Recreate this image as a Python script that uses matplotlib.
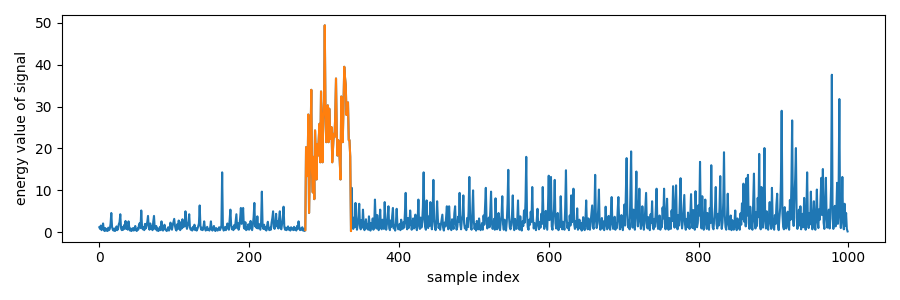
import numpy as np
import matplotlib
matplotlib.use("Agg")
import matplotlib.pyplot as plt

# energy before the event, samples 0..274
energy_before = [
    1.2, 0.8, 1.6, 0.5, 0.9, 2.1, 0.6, 0.3, 1.0, 0.4,
    0.7, 0.3, 1.1, 0.5, 0.8, 2.0, 4.6, 1.3, 0.6, 0.4,
    0.9, 0.3, 0.6, 1.4, 0.5, 0.8, 1.9, 2.4, 4.3, 1.0,
    0.5, 1.2, 0.6, 1.7, 0.9, 2.7, 0.8, 1.3, 0.6, 2.6,
    1.1, 0.4, 0.9, 0.3, 0.6, 1.0, 0.4, 0.8, 1.5, 0.5,
    0.3, 0.9, 0.6, 1.8, 2.2, 1.0, 5.2, 1.4, 0.7, 1.2,
    0.5, 2.0, 0.9, 1.6, 2.4, 3.9, 1.2, 0.6, 2.1, 0.8,
    1.4, 0.5, 2.5, 3.9, 1.0, 0.7, 1.5, 0.4, 0.9, 0.3,
    0.8, 1.3, 0.5, 2.6, 1.1, 0.4, 0.7, 1.8, 0.9, 0.5,
    0.3, 0.6, 1.2, 0.4, 0.9, 2.3, 1.1, 0.6, 1.7, 2.4,
    3.2, 1.5, 0.7, 0.4, 1.9, 0.8, 2.8, 1.0, 0.5, 2.4,
    0.9, 3.1, 1.2, 2.2, 1.4, 5.0, 2.0, 0.8, 1.6, 2.6,
    4.3, 1.1, 0.6, 0.9, 0.4, 1.3, 0.7, 1.8, 0.5, 1.0,
    0.4, 0.8, 1.4, 2.1, 6.4, 1.5, 0.6, 1.1, 0.5, 1.2,
    2.6, 0.9, 0.4, 0.7, 1.3, 0.5, 0.8, 0.4, 1.1, 2.6,
    0.7, 0.4, 0.9, 1.5, 0.5, 0.3, 1.0, 0.6, 0.4, 0.8,
    1.2, 0.5, 0.9, 1.6, 14.3, 1.1, 0.4, 0.7, 1.3, 0.5,
    0.9, 2.1, 1.4, 0.6, 3.0, 5.4, 1.8, 0.7, 1.2, 0.5,
    1.7, 0.9, 2.6, 4.3, 1.0, 2.2, 0.6, 1.4, 3.3, 5.8,
    2.0, 3.5, 5.8, 1.2, 0.8, 2.4, 0.5, 1.1, 0.7, 1.9,
    0.6, 1.3, 2.7, 1.0, 0.5, 1.8, 3.6, 7.0, 1.4, 2.2,
    1.0, 3.8, 0.9, 2.0, 1.3, 0.6, 2.4, 9.7, 1.5, 0.8,
    1.8, 0.7, 1.2, 0.4, 1.6, 2.5, 0.9, 0.5, 1.1, 0.6,
    2.3, 3.4, 5.0, 1.2, 0.8, 1.7, 4.4, 1.4, 2.6, 0.9,
    3.2, 5.0, 1.0, 0.7, 2.0, 3.6, 6.1, 1.3, 0.6, 1.1,
    0.5, 0.9, 1.4, 0.6, 1.0, 0.4, 1.2, 0.7, 0.9, 0.5,
    1.3, 0.6, 1.0, 0.4, 1.5, 0.8, 2.6, 1.1, 0.5, 0.9,
    0.6, 1.2, 0.4, 0.8, 0.3,
]

# detected event, samples 275..336 (drawn in orange)
event_start = 275
energy_event = [
    0.5, 20.3, 16.0, 13.4, 28.1, 4.6, 14.0, 22.0, 34.0, 14.2,
    9.5, 18.0, 7.9, 24.3, 19.0, 12.6, 21.0, 18.3, 22.5, 25.9,
    16.7, 33.6, 24.0, 16.7, 27.0, 31.2, 49.4, 28.0, 21.5, 26.0,
    30.3, 21.5, 29.5, 25.0, 22.3, 25.1, 16.7, 20.0, 23.5, 22.7,
    28.0, 36.7, 24.0, 18.3, 22.0, 20.7, 17.0, 12.6, 32.4, 26.0,
    21.5, 30.0, 39.5, 37.0, 35.2, 28.0, 30.5, 31.0, 22.0, 22.0,
    18.0, 0.3,
]

# energy after the event, samples 337..999
energy_after = [
    10.6, 2.1, 0.8,
    3.5, 1.2, 7.0, 2.4, 0.6, 1.8, 4.0, 6.8, 1.5, 0.7,
    2.9, 1.1, 5.4, 2.0, 0.5, 1.6, 3.1, 0.9, 1.9, 0.6,
    3.8, 1.3, 0.4, 2.2, 1.0, 3.3, 0.6, 1.7, 7.8, 2.5,
    0.9, 4.1, 1.4, 0.5, 2.6, 5.4, 1.2, 0.7, 3.0, 1.6,
    0.8, 7.2, 2.3, 0.6, 1.9, 3.7, 6.2, 1.0, 0.5, 2.8,
    1.3, 3.9, 5.8, 0.9, 1.6, 0.4, 2.5, 5.6, 1.8, 0.7,
    1.2, 2.0, 0.5, 3.0, 1.4, 0.8, 2.4, 1.1, 4.6, 9.4,
    2.2, 0.7, 3.4, 1.0, 1.9, 5.2, 2.6, 0.6, 1.5, 3.3,
    0.9, 1.7, 4.2, 1.2, 0.5, 2.9, 7.8, 1.6, 0.8, 3.5,
    1.1, 2.4, 6.0, 14.3, 3.0, 1.3, 0.6, 7.6, 2.1, 1.0,
    3.8, 1.5, 7.2, 2.6, 0.7, 4.4, 12.5, 3.1, 1.2, 0.5,
    2.7, 7.4, 3.2, 1.0, 2.0, 0.6, 1.8, 3.0, 4.2, 1.1,
    0.4, 2.3, 1.4, 3.6, 6.2, 1.5, 0.7, 6.2, 2.4, 1.0,
    0.5, 3.1, 1.6, 0.8, 4.5, 6.2, 2.0, 0.6, 1.3, 3.7,
    2.5, 9.4, 1.8, 0.7, 2.9, 4.1, 8.8, 2.2, 0.9, 1.4,
    0.5, 3.4, 1.2, 5.0, 13.2, 3.9, 1.1, 0.6, 4.8, 10.0,
    2.6, 0.8, 1.9, 0.4, 2.7, 1.3, 0.7, 3.3, 1.5, 0.5,
    1.0, 2.2, 0.6, 4.0, 1.8, 6.3, 10.6, 2.9, 0.9, 1.6,
    3.5, 1.2, 5.1, 9.7, 2.4, 0.8, 1.4, 3.2, 0.6, 8.1,
    2.0, 0.7, 1.5, 4.6, 1.1, 0.5, 2.8, 4.0, 8.6, 1.9,
    0.6, 3.0, 1.3, 0.4, 2.5, 6.8, 14.9, 3.6, 1.2, 0.7,
    2.1, 4.3, 8.8, 1.7, 0.5, 3.2, 1.4, 0.8, 2.9, 7.6,
    1.6, 0.6, 3.8, 1.0, 0.4, 2.6, 1.5, 5.2, 2.3, 7.4,
    18.0, 4.1, 1.2, 0.6, 3.0, 1.8, 4.9, 2.5, 10.8, 3.4,
    0.9, 2.2, 1.4, 0.5, 3.1, 5.6, 1.7, 0.7, 2.4, 1.1,
    4.4, 2.0, 10.8, 3.3, 0.8, 1.6, 5.1, 2.7, 0.6, 6.0,
    13.5, 2.9, 4.8, 13.2, 1.4, 0.6, 3.7, 5.5, 12.5, 2.2,
    0.9, 1.8, 4.6, 0.5, 2.3, 1.2, 8.6, 3.0, 0.7, 2.5,
    1.3, 0.6, 5.9, 14.8, 3.2, 1.0, 2.1, 0.5, 4.0, 1.6,
    8.8, 2.4, 3.5, 10.4, 1.9, 0.8, 2.7, 1.2, 5.7, 0.6,
    1.5, 3.0, 0.9, 2.2, 0.4, 1.7, 3.6, 1.1, 0.5, 2.8,
    7.6, 1.9, 0.7, 3.3, 1.4, 0.6, 2.5, 4.2, 6.4, 1.3,
    0.8, 4.7, 13.7, 3.1, 1.0, 2.4, 5.3, 10.2, 2.0, 0.6,
    1.6, 3.4, 0.9, 2.6, 0.5, 1.8, 6.1, 2.3, 0.7, 1.2,
    3.9, 1.4, 0.6, 4.5, 8.4, 2.0, 0.8, 1.5, 3.7, 0.6,
    2.2, 1.0, 5.0, 8.4, 2.9, 0.7, 1.9, 4.1, 1.3, 0.5,
    3.0, 6.6, 1.6, 9.2, 17.7, 4.5, 1.2, 2.8, 0.7, 8.9,
    19.3, 3.6, 1.1, 5.4, 2.2, 0.6, 7.0, 14.5, 3.9, 1.4,
    4.8, 10.4, 2.7, 0.8, 1.9, 6.2, 3.1, 0.6, 2.4, 5.7,
    9.4, 2.0, 0.9, 3.6, 1.4, 0.5, 4.3, 2.2, 7.4, 1.7,
    0.7, 3.2, 1.3, 5.5, 10.4, 2.6, 0.8, 1.8, 4.0, 0.6,
    2.5, 1.2, 5.9, 3.3, 10.4, 2.1, 0.7, 4.6, 8.0, 1.5,
    0.6, 3.4, 1.9, 0.8, 5.2, 2.7, 11.0, 3.8, 1.1, 6.4,
    11.2, 2.3, 0.7, 4.1, 1.6, 7.3, 12.9, 3.0, 0.9, 2.5,
    5.6, 8.9, 1.8, 0.6, 3.2, 1.2, 4.7, 2.0, 0.8, 3.9,
    9.1, 2.6, 1.0, 5.3, 1.7, 0.6, 9.8, 3.4, 1.2, 2.2,
    6.5, 4.0, 16.8, 2.9, 0.9, 8.6, 1.5, 0.6, 3.1, 7.8,
    2.4, 0.8, 4.6, 1.3, 0.6, 5.8, 2.2, 16.0, 3.7, 1.1,
    0.7, 3.5, 6.0, 10.8, 2.0, 0.9, 4.4, 1.6, 5.9, 13.4,
    3.0, 0.8, 2.3, 7.1, 19.1, 4.2, 1.2, 0.6, 3.6, 9.2,
    2.1, 0.7, 1.6, 4.0, 0.5, 2.9, 1.3, 0.6, 2.4, 5.2,
    1.4, 0.5, 3.3, 1.0, 2.0, 0.6, 4.5, 1.8, 6.9, 3.1,
    11.6, 2.5, 5.7, 1.4, 12.9, 4.0, 13.7, 2.2, 0.8, 6.1,
    3.3, 1.2, 0.6, 7.4, 14.0, 2.7, 0.9, 4.8, 1.5, 8.2,
    3.6, 18.7, 2.0, 0.7, 10.8, 4.3, 1.1, 6.3, 20.1, 2.8,
    0.9, 5.0, 1.6, 0.6, 3.7, 7.2, 2.4, 0.8, 10.6, 3.2,
    1.2, 0.6, 4.1, 2.0, 6.6, 9.2, 1.7, 0.5, 3.4, 5.8,
    12.2, 29.0, 4.5, 1.3, 0.7, 6.0, 2.5, 0.9, 3.8, 4.9,
    1.4, 0.6, 7.7, 3.0, 11.5, 26.7, 4.2, 1.5, 8.3, 12.6,
    20.1, 3.5, 0.8, 2.2, 5.4, 1.6, 6.2, 0.7, 2.9, 4.4,
    1.2, 8.2, 3.1, 0.6, 5.0, 14.3, 2.8, 1.0, 4.6, 1.9,
    9.7, 2.4, 0.7, 3.8, 7.4, 1.3, 0.6, 4.9, 10.2, 2.6,
    1.0, 5.5, 3.0, 8.7, 13.0, 4.1, 15.1, 2.3, 0.8, 6.4,
    13.0, 3.6, 1.1, 2.7, 5.4, 0.9, 4.8, 11.0, 37.6, 3.2,
    0.8, 2.5, 6.3, 1.4, 4.7, 11.8, 2.0, 9.6, 31.8, 3.4,
    1.0, 4.2, 13.2, 2.6, 0.7, 6.8, 1.5, 4.6, 0.8, 0.2,
]

energy = np.array(energy_before + energy_event + energy_after)
event = np.array(energy_event)

plt.figure(figsize=(9, 3))
plt.plot(np.arange(len(energy)), energy)
plt.plot(np.arange(event_start, event_start + len(event)), event)
plt.xlabel("sample index")
plt.ylabel("energy value of signal")
plt.tight_layout()
plt.savefig("out.png", dpi=100)
plt.close()
